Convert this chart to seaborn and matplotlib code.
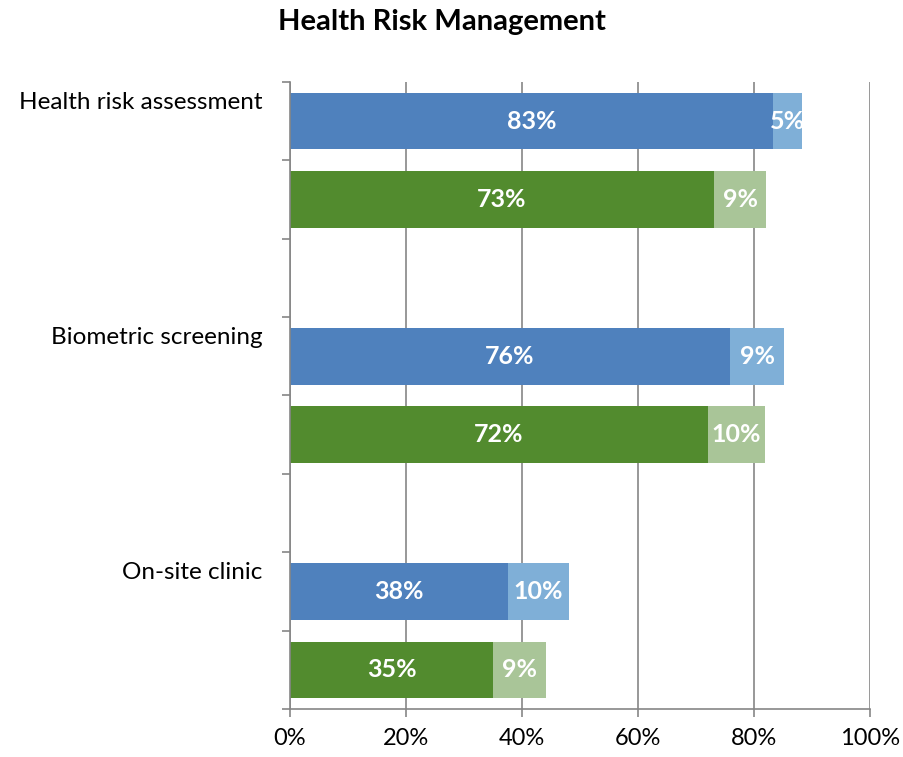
import numpy as np
import pandas as pd
import matplotlib.pyplot as plt
import seaborn as sns

# Data (percent)
categories = ["Health risk assessment", "Biometric screening", "On-site clinic"]
blue_main = [83.3, 75.9, 37.6]
blue_extra = [5.0, 9.3, 10.5]
green_main = [73.1, 72.1, 35.0]
green_extra = [9.0, 9.8, 9.1]
blue_labels = ["83%", "76%", "38%"]
blue_extra_labels = ["5%", "9%", "10%"]
green_labels = ["73%", "72%", "35%"]
green_extra_labels = ["9%", "10%", "9%"]
x_ticks = [0, 20, 40, 60, 80, 100]

sns.set_style("white")
plt.rcParams["font.family"] = ["Lato", "DejaVu Sans"]
plt.rcParams["text.color"] = "black"
plt.rcParams["xtick.labelcolor"] = "black"
plt.rcParams["ytick.labelcolor"] = "black"

# slots: blue, green, gap per category
blue_pos = [0, 3, 6]
green_pos = [1, 4, 7]

df_total = pd.DataFrame({
    "pos": blue_pos + green_pos,
    "value": [m + e for m, e in zip(blue_main, blue_extra)] + [m + e for m, e in zip(green_main, green_extra)],
    "series": ["blue"] * 3 + ["green"] * 3,
})
df_main = pd.DataFrame({
    "pos": blue_pos + green_pos,
    "value": blue_main + green_main,
    "series": ["blue"] * 3 + ["green"] * 3,
})

fig = plt.figure(figsize=(9.04, 7.57), dpi=100)
ax = fig.add_axes([0.3208, 0.0634, 0.9624 - 0.3208, 0.8917 - 0.0634])

sns.barplot(data=df_total, x="value", y="pos", hue="series", orient="h", native_scale=True,
            dodge=False, width=0.72, palette={"blue": "#7FAFD7", "green": "#A9C598"},
            saturation=1, legend=False, ax=ax, linewidth=0)
sns.barplot(data=df_main, x="value", y="pos", hue="series", orient="h", native_scale=True,
            dodge=False, width=0.72, palette={"blue": "#4F81BD", "green": "#528B2E"},
            saturation=1, legend=False, ax=ax, linewidth=0)

ax.set_xlim(0, 100)
ax.set_ylim(7.5, -0.5)

# bar labels
lab_kw = dict(color="white", fontsize=18, fontweight="bold", ha="center", va="center")
for p, m, e, l1, l2 in zip(blue_pos, blue_main, blue_extra, blue_labels, blue_extra_labels):
    ax.text(m / 2, p, l1, **lab_kw)
    ax.text(m + e / 2, p, l2, **lab_kw)
for p, m, e, l1, l2 in zip(green_pos, green_main, green_extra, green_labels, green_extra_labels):
    ax.text(m / 2, p, l1, **lab_kw)
    ax.text(m + e / 2, p, l2, **lab_kw)

# grid and axes
ax.set_xticks(x_ticks)
ax.set_xticklabels([f"{t}%" for t in x_ticks], fontsize=17)
ax.xaxis.grid(True, color="#868686", linewidth=1.2)
ax.set_axisbelow(True)

ax.set_yticks([p - 0.27 for p in blue_pos])
ax.set_yticklabels(categories, fontsize=17.5)
ax.set_yticks(np.arange(-0.5, 8, 1), minor=True)
ax.tick_params(axis="y", which="major", left=False, length=0, pad=20)
ax.tick_params(axis="y", which="minor", left=True, length=6, color="#868686", width=1.2)
ax.tick_params(axis="x", length=6, color="#868686", width=1.2, bottom=True, pad=8)
ax.set_xlabel("")
ax.set_ylabel("")

for s in ["top", "right"]:
    ax.spines[s].set_visible(False)
for s in ["left", "bottom"]:
    ax.spines[s].set_color("#868686")
    ax.spines[s].set_linewidth(1.2)

fig.text(0.489, 1 - 22 / 757, "Health Risk Management", ha="center", va="center",
         fontsize=21, fontweight="bold", color="black")

plt.savefig("out.png", dpi=100)
plt.close()
